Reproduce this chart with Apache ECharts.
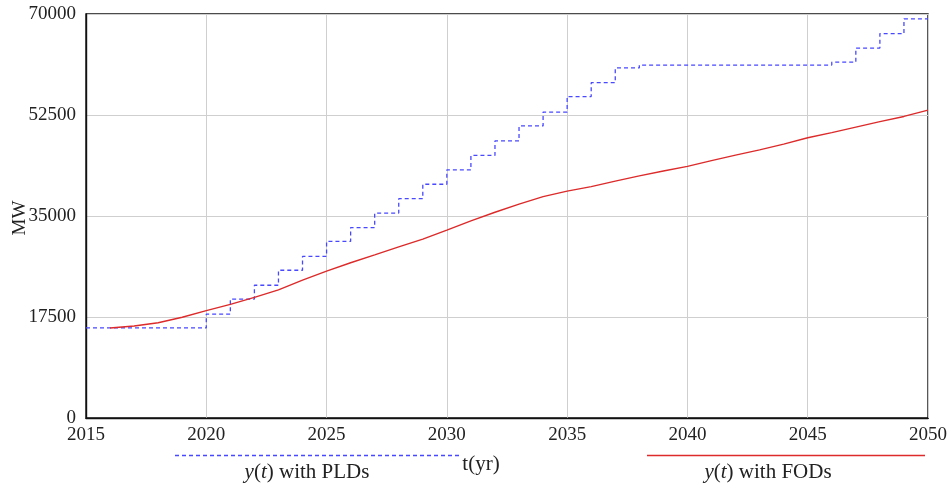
<!DOCTYPE html>
<html>
<head>
<meta charset="utf-8">
<script src="https://cdn.jsdelivr.net/npm/echarts@6/dist/echarts.min.js"></script>
<style>
  html, body { margin: 0; padding: 0; background: #fff; }
  #chart { width: 947px; height: 484px; }
</style>
</head>
<body>
<div id="chart"></div>
<script>
// Installed capacity y(t) in MW, two scheduling variants

// Piecewise-constant build-out (PLDs): level holds from each year until the next entry
const pldYears  = [2015, 2020, 2021, 2022, 2023, 2024, 2025, 2026, 2027, 2028, 2029,
                   2030, 2031, 2032, 2033, 2034, 2035, 2036, 2037, 2038, 2046, 2047,
                   2048, 2049, 2050];
const pldValues = [15600, 18000, 20600, 23000, 25600, 28000, 30600, 33000, 35500, 38000, 40500,
                   43000, 45500, 48000, 50600, 53000, 55700, 58100, 60650, 61150, 61650, 64100,
                   66600, 69150, 69150];

// Smooth trajectory (FODs)
const fodYears  = [2016, 2017, 2018, 2019, 2020, 2021, 2022, 2023, 2024, 2025, 2026, 2027,
                   2028, 2029, 2030, 2031, 2032, 2033, 2034, 2035, 2036, 2037, 2038, 2039,
                   2040, 2041, 2042, 2043, 2044, 2045, 2046, 2047, 2048, 2049, 2050];
const fodValues = [15600, 15950, 16500, 17450, 18600, 19700, 20900, 22200, 23900, 25450, 26900, 28250,
                   29650, 31000, 32550, 34150, 35650, 37050, 38350, 39300, 40100, 41050, 41950, 42800,
                   43600, 44600, 45550, 46450, 47450, 48550, 49450, 50400, 51350, 52250, 53350];

// Axis ticks
const xTicks = [2015, 2020, 2025, 2030, 2035, 2040, 2045, 2050];
const yTicks = [0, 17500, 35000, 52500, 70000];

const FONT = '"Liberation Serif", "DejaVu Serif", serif';
const BLUE = '#4848ff';
const RED = '#dd2a2a';

const pld = pldYears.map((x, i) => [x, pldValues[i]]);
const fod = fodYears.map((x, i) => [x, fodValues[i]]);

const chart = echarts.init(document.getElementById('chart'), null, { renderer: 'canvas' });

chart.setOption({
  animation: false,
  backgroundColor: '#fff',
  grid: {
    left: 86, right: 19, top: 14, bottom: 66,
    containLabel: false, outerBoundsMode: 'none',
    show: true, borderColor: '#111', borderWidth: 1.4, backgroundColor: 'transparent'
  },
  xAxis: {
    type: 'value',
    min: xTicks[0], max: xTicks[xTicks.length - 1], interval: xTicks[1] - xTicks[0],
    axisLine: { show: true, lineStyle: { color: '#111', width: 1.4 } },
    axisTick: { show: false },
    splitLine: { show: true, lineStyle: { color: '#cfcfcf', width: 1 } },
    axisLabel: {
      color: '#222', fontFamily: FONT, fontSize: 19, margin: 8,
      formatter: v => String(v)
    }
  },
  yAxis: {
    type: 'value',
    min: yTicks[0], max: yTicks[yTicks.length - 1], interval: yTicks[1] - yTicks[0],
    axisLine: { show: true, lineStyle: { color: '#111', width: 1.4 } },
    axisTick: { show: false },
    splitLine: { show: true, lineStyle: { color: '#cfcfcf', width: 1 } },
    axisLabel: {
      color: '#222', fontFamily: FONT, fontSize: 19, margin: 10,
      formatter: v => String(v)
    }
  },
  series: [
    {
      name: 'PLDs',
      type: 'line',
      step: 'end',
      data: pld,
      symbol: 'none',
      lineStyle: { color: BLUE, width: 1.3, type: [4, 3] },
      z: 3
    },
    {
      name: 'FODs',
      type: 'line',
      data: fod,
      symbol: 'none',
      lineStyle: { color: RED, width: 1.4 },
      z: 4
    }
  ],
  graphic: [
    // vertical axis title
    { type: 'text', x: 20, y: 218, rotation: Math.PI / 2,
      style: {
        text: 'MW', fontFamily: FONT, fontSize: 19, fill: '#222',
        textAlign: 'center', textVerticalAlign: 'middle'
      } },
    // legend entries drawn beneath the axis
    { type: 'line', shape: { x1: 175, y1: 455.5, x2: 462, y2: 455.5 },
      style: { stroke: BLUE, lineWidth: 1.3, lineDash: [4, 3] } },
    { type: 'text', x: 307, y: 472,
      style: {
        text: '{i|y}({i|t}) with PLDs',
        rich: { i: { fontStyle: 'italic', fontFamily: FONT, fontSize: 21, fill: '#222' } },
        fontFamily: FONT, fontSize: 21, fill: '#222',
        textAlign: 'center', textVerticalAlign: 'middle'
      } },
    { type: 'text', x: 481, y: 464,
      style: {
        text: 't(yr)', fontFamily: FONT, fontSize: 21, fill: '#222',
        textAlign: 'center', textVerticalAlign: 'middle'
      } },
    { type: 'line', shape: { x1: 647, y1: 455.5, x2: 925, y2: 455.5 },
      style: { stroke: RED, lineWidth: 1.4 } },
    { type: 'text', x: 768, y: 472,
      style: {
        text: '{i|y}({i|t}) with FODs',
        rich: { i: { fontStyle: 'italic', fontFamily: FONT, fontSize: 21, fill: '#222' } },
        fontFamily: FONT, fontSize: 21, fill: '#222',
        textAlign: 'center', textVerticalAlign: 'middle'
      } }
  ]
});
</script>
</body>
</html>
